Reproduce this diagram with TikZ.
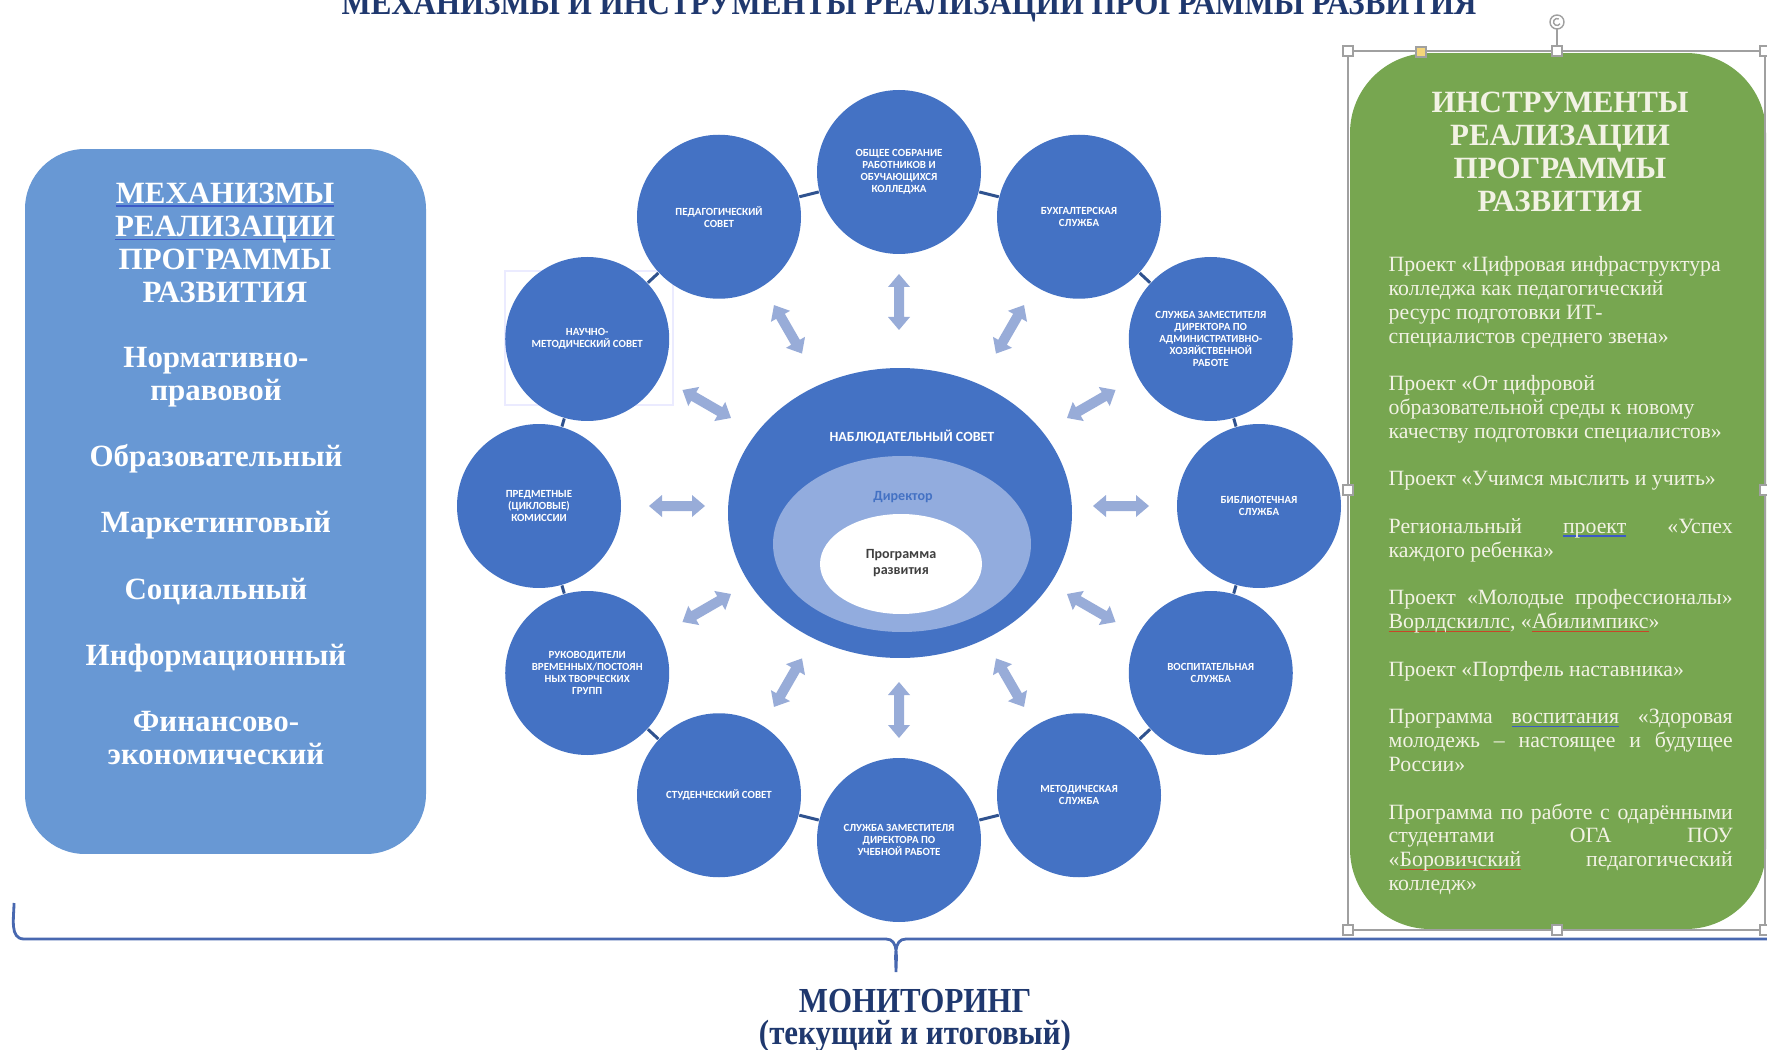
\documentclass[tikz,border=0pt]{standalone}
\usepackage{fontspec}
\setmainfont{Liberation Serif}
\newfontfamily\calib{Carlito}
\usetikzlibrary{shapes.geometric, positioning}
\definecolor{unitblue}{RGB}{68,114,196}
\definecolor{ringline}{RGB}{47,82,143}
\definecolor{arrowblue}{RGB}{152,172,216}
\definecolor{ovalblue}{RGB}{146,172,222}
\definecolor{mechblue}{RGB}{104,152,212}
\definecolor{toolgreen}{RGB}{119,166,80}
\definecolor{navy}{RGB}{31,56,110}
\definecolor{bracketblue}{RGB}{72,104,176}
\definecolor{handlegray}{RGB}{160,160,160}
\definecolor{spellblue}{RGB}{60,90,200}
\definecolor{spellred}{RGB}{200,70,40}
\definecolor{creamy}{RGB}{242,242,228}
\newcommand\spelled[2]{\setbox0\hbox{#2}\rlap{\color{#1}\rule[-1pt]{\wd0}{0.45pt}}\box0\relax}
\newcommand\tline[1]{\hbox to\hsize{#1\hfil}}
\newcommand\jline[1]{\hbox to\hsize{#1}}

\begin{document}
\begin{tikzpicture}[x=0.1mm, y=-0.1mm,
  unit/.style={circle, fill=unitblue, minimum size=16.4mm, inner sep=0pt, align=center, text=white, font=\calib\bfseries\fontsize{3.1}{3.4}\selectfont},
  ring/.style={draw=ringline, line width=0.85pt},
  duplex/.style={fill=arrowblue},
  oval/.style={ellipse, inner sep=0pt},
  paneltext/.style={align=center, font=\bfseries\fontsize{8.8}{9.4}\selectfont},
  banner/.style={text=navy, font=\bfseries\fontsize{10}{12}\selectfont, inner sep=0pt},
  handle/.style={fill=white, draw=handlegray, line width=0.3pt}]
\clip (0,0) rectangle (1767,1050);
\fill[white] (0,0) rectangle (1767,1050);

% heading, cut at the top
\node[banner, anchor=base] (toptitle) at (909,15) {\scalebox{0.88}[1]{МЕХАНИЗМЫ И ИНСТРУМЕНТЫ РЕАЛИЗАЦИИ ПРОГРАММЫ РАЗВИТИЯ}};

% left panel
\node[fill=mechblue, rounded corners=6mm, minimum width=40.1mm, minimum height=70.5mm] (mech) at (225.5,501.5) {};
\node[paneltext, text=white] (mechtitle) at (225,243) {\spelled{spellblue}{МЕХАНИЗМЫ}\\\spelled{spellblue}{РЕАЛИЗАЦИИ}\\ПРОГРАММЫ\\РАЗВИТИЯ};
\node[paneltext, text=white] (mechlist) at (216,556) {Нормативно-\\правовой\\[9.4pt]Образовательный\\[9.4pt]Маркетинговый\\[9.4pt]Социальный\\[9.4pt]Информационный\\[9.4pt]Финансово-\\экономический};

% right panel with its selection frame
\node[fill=toolgreen, rounded corners=8mm, minimum width=41.6mm, minimum height=87.6mm] (tools) at (1558,491) {};
\draw[handlegray, line width=0.3pt] (1348,51) rectangle (1765,930);
\draw[handlegray, line width=0.3pt] (1557,29) -- (1557,46);
\draw[handlegray, line width=0.4pt, fill=white] (1557,22) circle [radius=7];
\draw[handlegray, line width=0.4pt] (1557,22) ++(30:3.5) arc [start angle=30, end angle=300, radius=3.5];
\foreach \p in {(1348,51),(1557,51),(1765,51),(1348,490),(1765,490),(1348,930),(1557,930),(1765,930)}
  \filldraw[handle] \p ++(-5,-5) rectangle ++(10,10);
\filldraw[fill={rgb,255:red,245;green,214;blue,122}, draw=handlegray, line width=0.3pt] (1416,47) rectangle ++(10,10);
\node[paneltext, text=creamy] (tooltitle) at (1560,152) {ИНСТРУМЕНТЫ\\РЕАЛИЗАЦИИ\\ПРОГРАММЫ\\РАЗВИТИЯ};
\node[anchor=north west, inner sep=0pt, text=creamy, font=\fontsize{6.2}{6.77}\selectfont] (toolprojects) at (1388,256) {\vbox{\hsize=34.4mm
\tline{Проект «Цифровая инфраструктура}
\tline{колледжа как педагогический}
\tline{ресурс подготовки ИТ-}
\tline{специалистов среднего звена»}
\vskip\baselineskip
\tline{Проект «От цифровой}
\tline{образовательной среды к новому}
\tline{качеству подготовки специалистов»}
\vskip\baselineskip
\tline{Проект «Учимся мыслить и учить»}
\vskip\baselineskip
\jline{Региональный \spelled{spellblue}{проект} «Успех}
\tline{каждого ребенка»}
\vskip\baselineskip
\jline{Проект «Молодые профессионалы»}
\tline{\spelled{spellred}{Ворлдскиллс}, «\spelled{spellred}{Абилимпикс}»}
\vskip\baselineskip
\tline{Проект «Портфель наставника»}
\vskip\baselineskip
\jline{Программа \spelled{spellblue}{воспитания} «Здоровая}
\jline{молодежь – настоящее и будущее}
\tline{России»}
\vskip\baselineskip
\jline{Программа по работе с одарёнными}
\jline{студентами ОГА ПОУ}
\jline{«\spelled{spellred}{Боровичский} педагогический}
\tline{колледж»}}};

% centre
\node[oval, fill=unitblue, minimum width=34.4mm, minimum height=29mm] (nabl) at (900,513) {};
\node[oval, fill=ovalblue, minimum width=25.8mm, minimum height=17.6mm] (dir) at (902,544) {};
\node[oval, fill=white, minimum width=16.2mm, minimum height=10mm] (prog) at (901,564) {};
\node[text=white, font=\calib\bfseries\fontsize{4}{4.4}\selectfont] (nabltext) at (912,437) {НАБЛЮДАТЕЛЬНЫЙ СОВЕТ};
\node[text=unitblue, font=\calib\bfseries\fontsize{4}{4.4}\selectfont] (dirtext) at (903,497) {Директор};
\node[text=black!75, align=center, font=\calib\bfseries\fontsize{4}{4.3}\selectfont] (progtext) at (901,563) {Программа\\развития};

% faint frame round one picture
\draw[blue!8, line width=0.3pt] (505,271) rectangle (673,405);

% circle of units
\begin{scope}[shift={(899,506)}]
\foreach \a in {0,30,...,330}
  \fill[duplex, shift={(\a:222 and -204)}, rotate=\a] (-28,0) -- (-15,-11) -- (-15,-5) -- (15,-5) -- (15,-11) -- (28,0) -- (15,11) -- (15,5) -- (-15,5) -- (-15,11) -- cycle;
\node[unit] (obshee) at (90:360 and -334) {ОБЩЕЕ СОБРАНИЕ\\РАБОТНИКОВ И\\ОБУЧАЮЩИХСЯ\\КОЛЛЕДЖА};
\node[unit] (buh) at (60:360 and -334) {БУХГАЛТЕРСКАЯ\\СЛУЖБА};
\node[unit] (ahr) at (30:360 and -334) {СЛУЖБА ЗАМЕСТИТЕЛЯ\\ДИРЕКТОРА ПО\\АДМИНИСТРАТИВНО-\\ХОЗЯЙСТВЕННОЙ\\РАБОТЕ};
\node[unit] (bibl) at (0:360 and -334) {БИБЛИОТЕЧНАЯ\\СЛУЖБА};
\node[unit] (vosp) at (-30:360 and -334) {ВОСПИТАТЕЛЬНАЯ\\СЛУЖБА};
\node[unit] (metod) at (-60:360 and -334) {МЕТОДИЧЕСКАЯ\\СЛУЖБА};
\node[unit] (ucheb) at (-90:360 and -334) {СЛУЖБА ЗАМЕСТИТЕЛЯ\\ДИРЕКТОРА ПО\\УЧЕБНОЙ РАБОТЕ};
\node[unit] (stud) at (-120:360 and -334) {СТУДЕНЧЕСКИЙ СОВЕТ};
\node[unit] (ruk) at (-150:360 and -334) {РУКОВОДИТЕЛИ\\ВРЕМЕННЫХ/ПОСТОЯН\\НЫХ ТВОРЧЕСКИХ\\ГРУПП};
\node[unit] (predm) at (180:360 and -334) {ПРЕДМЕТНЫЕ\\(ЦИКЛОВЫЕ)\\КОМИССИИ};
\node[unit] (nms) at (150:360 and -334) {НАУЧНО-\\МЕТОДИЧЕСКИЙ СОВЕТ};
\node[unit] (ped) at (120:360 and -334) {ПЕДАГОГИЧЕСКИЙ\\СОВЕТ};
\end{scope}
\draw[ring] (ped) -- (obshee);
\draw[ring] (obshee) -- (buh);
\draw[ring] (buh) -- (ahr);
\draw[ring] (ahr) -- (bibl);
\draw[ring] (bibl) -- (vosp);
\draw[ring] (vosp) -- (metod);
\draw[ring] (metod) -- (ucheb);
\draw[ring] (ucheb) -- (stud);
\draw[ring] (stud) -- (ruk);
\draw[ring] (ruk) -- (predm);
\draw[ring] (predm) -- (nms);
\draw[ring] (nms) -- (ped);

% monitoring brace
\draw[bracketblue, line width=0.8pt] (14,903) to[out=-90,in=180] (24,939) -- (886,939) to[out=0,in=90] (896,972) to[out=90,in=180] (906,939) -- (1767,939);
\node[banner] (monit) at (915,1001) {\scalebox{0.88}[1]{МОНИТОРИНГ}};
\node[banner] (monitkind) at (915,1036) {\scalebox{0.88}[1]{(текущий и итоговый)}};
\end{tikzpicture}
\end{document}
